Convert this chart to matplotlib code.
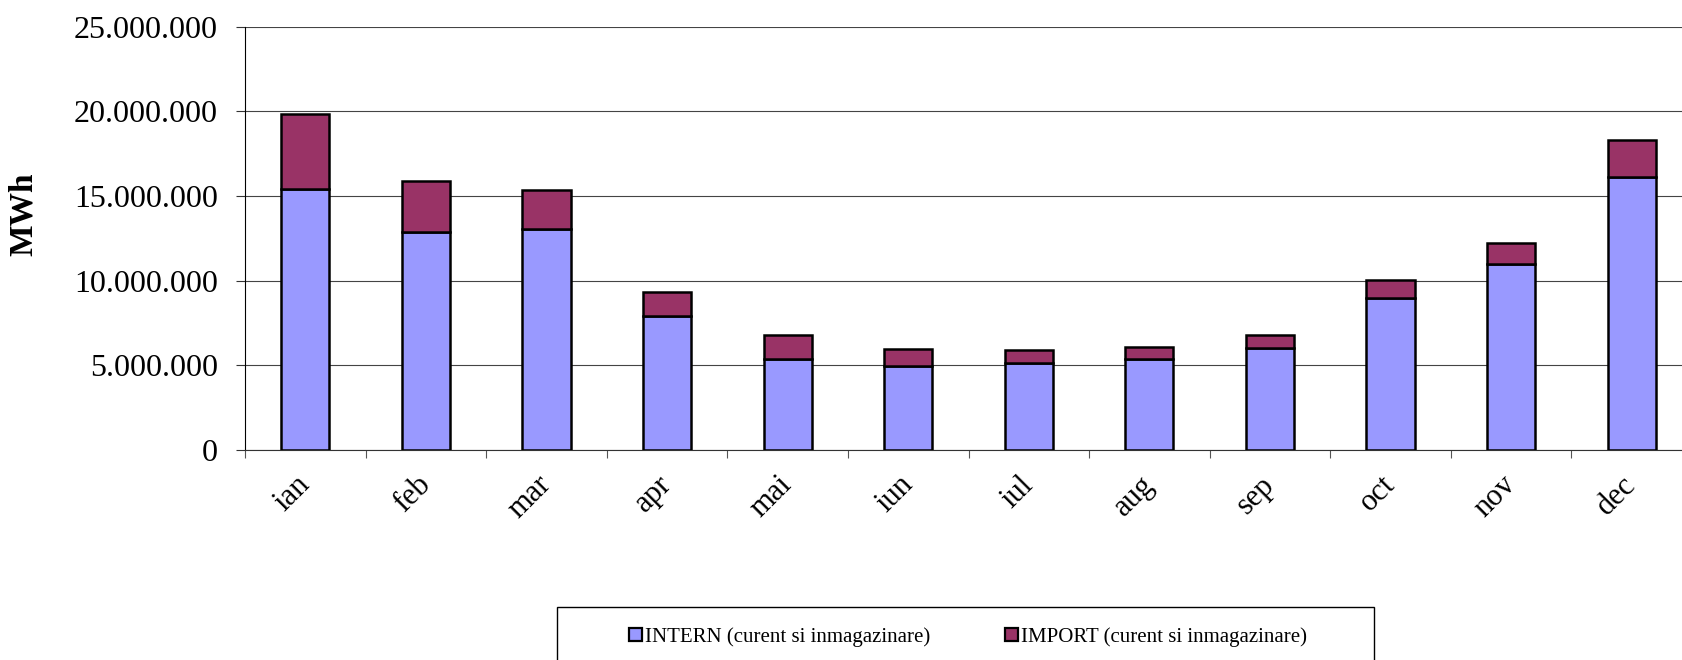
import numpy as np
import matplotlib
matplotlib.use('Agg')
import matplotlib.pyplot as plt
from matplotlib.patches import Rectangle, Patch
from matplotlib.ticker import FuncFormatter

plt.rcParams['font.family'] = ['Liberation Serif', 'DejaVu Serif']

# monthly consumption, MWh
months = ['ian', 'feb', 'mar', 'apr', 'mai', 'iun', 'iul', 'aug', 'sep', 'oct', 'nov', 'dec']
intern = [15.41e6, 12.87e6, 13.05e6, 7.91e6, 5.37e6, 4.96e6, 5.12e6, 5.37e6, 6.00e6, 8.97e6, 10.99e6, 16.10e6]
imports = [4.46e6, 3.00e6, 2.30e6, 1.42e6, 1.43e6, 0.98e6, 0.78e6, 0.73e6, 0.80e6, 1.08e6, 1.22e6, 2.20e6]

label_intern = 'INTERN (curent si inmagazinare)'
label_import = 'IMPORT (curent si inmagazinare)'
color_intern = '#9999FF'
color_import = '#993366'

W, H = 1682, 660
fig = plt.figure(figsize=(W / 100, H / 100), dpi=100)
# plot area runs slightly past the right edge like in the original
ax = fig.add_axes([245 / W, 1 - 450 / H, 1447 / W, (450 - 26.7) / H])

x = np.arange(len(months)) + 0.5
ax.bar(x, intern, width=0.4, color=color_intern, edgecolor='black', linewidth=1.8, zorder=3)
ax.bar(x, imports, width=0.4, bottom=intern, color=color_import, edgecolor='black', linewidth=1.8, zorder=3)

ax.set_xlim(0, len(months))
ax.set_ylim(0, 25e6)
ax.set_yticks(np.arange(0, 25e6 + 1, 5e6))
ax.yaxis.set_major_formatter(FuncFormatter(lambda v, p: f'{int(v):,}'.replace(',', '.')))
ax.tick_params(axis='y', labelsize=23, direction='out', length=6.5, width=0.8, pad=13, color='#333333')

# ticks on category edges, labels in the middle
ax.set_xticks(np.arange(0, len(months) + 1))
ax.set_xticklabels([])
ax.set_xticks(x, minor=True)
ax.set_xticklabels(months, minor=True, rotation=45, ha='right', va='center',
                   rotation_mode='anchor', fontsize=22)
ax.tick_params(axis='x', which='major', direction='out', length=6, width=0.8, color='#555555')
ax.tick_params(axis='x', which='minor', length=0, pad=22)

ax.grid(axis='y', color='#444444', linewidth=0.8, zorder=0)
ax.set_axisbelow(True)
for s in ['top', 'right']:
    ax.spines[s].set_visible(False)
ax.spines['left'].set_color('black')
ax.spines['bottom'].set_color('#333333')

fig.text(23 / W, 1 - 214 / H, 'MWh', rotation=90, fontsize=24, fontweight='bold',
         ha='center', va='center')

# legend, box cut off by the bottom edge
handles = [Patch(facecolor=color_intern, edgecolor='black', linewidth=1.6),
           Patch(facecolor=color_import, edgecolor='black', linewidth=1.6)]
fig.legend(handles, [label_intern, label_import], loc='center', ncol=2,
           bbox_to_anchor=(968 / W, 1 - 637 / H), frameon=False, fontsize=15,
           handlelength=0.6, handleheight=0.6, handletextpad=0.15, columnspacing=3.6)
fig.patches.append(Rectangle((557 / W, -0.05), (1374 - 557) / W, 0.05 + (660 - 607) / H,
                             transform=fig.transFigure, fill=False, edgecolor='black',
                             linewidth=1.0, clip_on=False))

fig.savefig('out.png', dpi=100, facecolor='white')
